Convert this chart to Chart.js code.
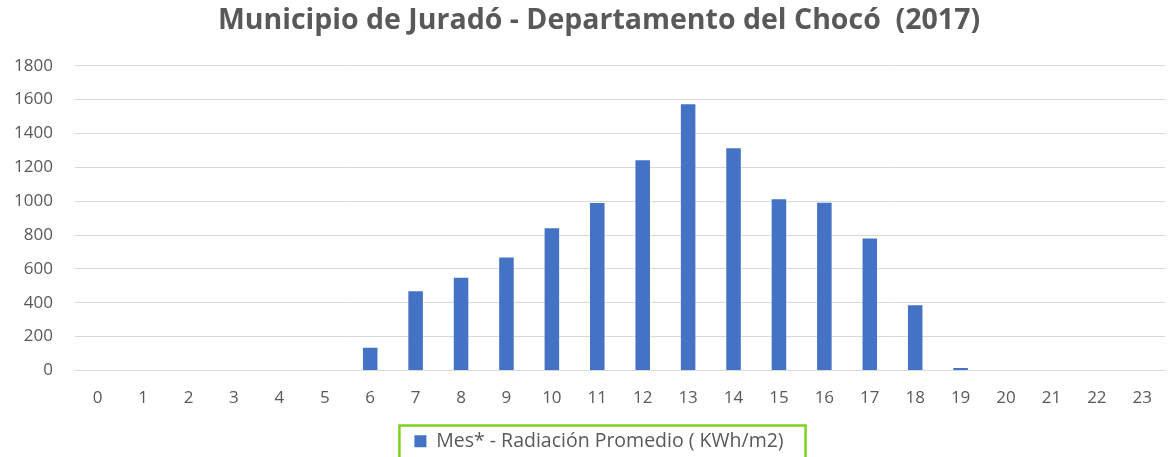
<!DOCTYPE html>
<html>
<head>
<meta charset="utf-8">
<script src="https://cdn.jsdelivr.net/npm/chart.js@4"></script>
<style>
  html, body { margin: 0; padding: 0; background: #fff; }
  #wrap { width: 1169px; height: 457px; }
</style>
</head>
<body>
<div id="wrap"><canvas id="radChart"></canvas></div>
<script>
// Horas del día
const horas = ['0','1','2','3','4','5','6','7','8','9','10','11','12','13','14','15','16','17','18','19','20','21','22','23'];
// Radiación promedio por hora (KWh/m2)
const radiacion = [0, 0, 0, 0, 0, 0, 135, 468, 547, 667, 840, 989, 1241, 1573, 1312, 1011, 991, 779, 386, 15, 0, 0, 0, 0];
const serieNombre = 'Mes* - Radiación Promedio ( KWh/m2)';
const titulo = 'Municipio de Juradó - Departamento del Chocó  (2017)';

// recuadro verde alrededor de la leyenda
const legendBox = {
  id: 'legendBox',
  afterDraw(chart) {
    const hb = chart.legend.legendHitBoxes[0];
    if (!hb) return;
    const ctx = chart.ctx;
    ctx.save();
    ctx.strokeStyle = '#7ed321';
    ctx.lineWidth = 2.5;
    const x0 = hb.left - 15;
    ctx.strokeRect(x0, hb.top - 6, hb.left + hb.width + 22 - x0, 50);
    ctx.restore();
  }
};

new Chart(document.getElementById('radChart').getContext('2d'), {
  type: 'bar',
  data: {
    labels: horas,
    datasets: [{
      label: serieNombre,
      data: radiacion,
      backgroundColor: '#4472c4',
      borderWidth: 0,
      barPercentage: 0.64,
      categoryPercentage: 0.5
    }]
  },
  options: {
    responsive: true,
    maintainAspectRatio: false,
    animation: false,
    layout: { padding: { left: 0, right: -29, top: 0, bottom: -4 } },
    plugins: {
      title: {
        display: true,
        text: titulo,
        color: '#595959',
        font: { family: 'Open Sans', size: 28.5, weight: 'bold' },
        padding: { top: 4, bottom: 27.5 }
      },
      legend: {
        position: 'bottom',
        labels: {
          color: '#595959',
          font: { family: 'Open Sans', size: 19.5 },
          boxWidth: 12,
          boxHeight: 12,
          padding: 7
        }
      },
      tooltip: { enabled: false }
    },
    scales: {
      x: {
        grid: { display: false, drawTicks: false },
        border: { display: false },
        ticks: { color: '#595959', font: { family: 'Open Sans', size: 17 }, padding: 17, maxRotation: 0 },
        afterFit(axis) { axis.height = 54; }
      },
      y: {
        min: 0,
        max: 1800,
        ticks: {
          stepSize: 200,
          color: '#595959',
          font: { family: 'Open Sans', size: 17 },
          padding: 22,
          callback: v => String(v)
        },
        grid: { color: '#d9d9d9', lineWidth: 1, drawTicks: false },
        border: { display: false },
        afterFit(axis) { axis.width = 75; }
      },
      // eje vacío a la derecha: solo desplaza título y leyenda como en el original
      yDer: {
        position: 'right',
        min: 0,
        max: 1800,
        ticks: { display: false },
        grid: { display: false, drawTicks: false },
        border: { display: false },
        afterFit(axis) { axis.width = 26; }
      }
    }
  },
  plugins: [legendBox]
});
</script>
</body>
</html>
